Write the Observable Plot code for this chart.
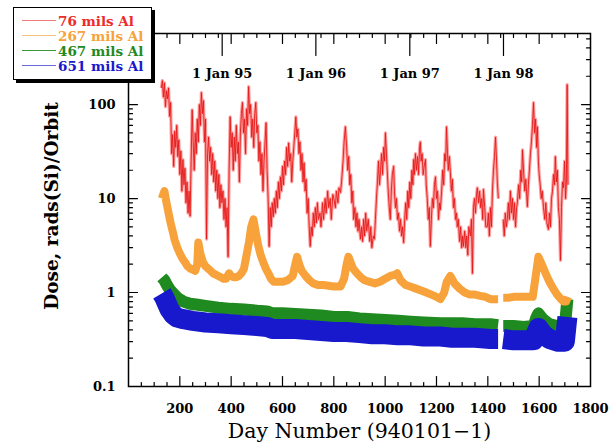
<!DOCTYPE html>
<html>
<head>
<meta charset="utf-8">
<script src="https://cdn.jsdelivr.net/npm/d3@7"></script>
<script src="https://cdn.jsdelivr.net/npm/@observablehq/plot@0.6"></script>
<style>
  html, body { margin: 0; padding: 0; background: #fff; }
  #wrap { position: relative; width: 615px; height: 444px; }
  #legend { position: absolute; left: 13px; top: 7px; width: 137px; height: 71px;
    border: 1px solid #000; box-shadow: 3px 3px 0 #000; background: #fff;
    font-family: "DejaVu Serif", serif; font-weight: bold; font-size: 13.5px; }
  .row { position: absolute; left: 0; height: 15px; display: flex; align-items: center; white-space: nowrap; }
  .sw { display: inline-block; width: 34px; height: 0; border-top: 1.2px solid; margin: 0 2px 0 8px; }
</style>
</head>
<body>
<div id="wrap"><div id="legend"></div></div>
<script>
// ---- data ----
const seriesNames = ["76 mils Al", "267 mils Al", "467 mils Al", "651 mils Al"];
const seriesColors = ["#ee2a2a", "#f7a23a", "#1f8a1f", "#1818cc"];
const swatchColors = ["#f07a7a", "#f5bf80", "#3a9a3a", "#6a6ad8"];
const yTickLabels = [0.1, 1, 10, 100];
const xTickLabels = [200, 400, 600, 800, 1000, 1200, 1400, 1600, 1800];
const yearDays = [365, 730, 1096, 1461];
const yearLabels = ["1 Jan 95", "1 Jan 96", "1 Jan 97", "1 Jan 98"];
const xTitle = "Day Number (940101\u22121)";
const yTitle = "Dose, rads(Si)/Orbit";

// 76 mils Al  [day, dose]
const red = [
[128,150],[132,180],[136,120],[140,170],[144,95],[148,140],[152,115],[156,150],[160,75],[164,105],[168,30],[172,48],[176,22],[180,52],[184,35],[188,60],[192,28],[196,42],[200,18],[204,32],[208,12],[212,26],[216,14],[220,21],[224,9],[228,15],[232,7],[236,12],[240,6.5],[244,25],[248,88],[252,40],[256,20],[260,50],[264,30],[268,70],[272,40],[276,100],[280,60],[284,134],[288,80],[292,110],[296,40],[300,70],[304,3.7],[308,30],[312,45],[316,25],[320,35],[324,18],[328,30],[332,15],[336,25],[340,12],[344,20],[348,10],[352,18],[356,8],[360,14],[364,9],[368,12],[372,6],[376,10],[380,5],[384,8],[388,2.4],[392,20],[396,74],[400,35],[404,50],[408,20],[412,45],[416,25],[420,60],[424,30],[428,40],[432,15],[436,50],[440,80],[444,105],[448,50],[452,70],[456,30],[460,90],[464,60],[468,155],[472,80],[476,100],[480,45],[484,70],[488,35],[492,80],[496,105],[500,50],[504,60],[508,25],[512,40],[516,18],[520,30],[524,12],[528,25],[532,40],[536,64],[540,20],[544,10],[548,3.1],[552,8],[556,5],[560,9],[564,6.4],[568,10],[572,7],[576,12],[580,8],[584,15],[588,10],[592,17],[596,12],[600,22],[604,14],[608,25],[612,18],[616,35],[620,22],[624,39],[628,25],[632,30],[636,15],[640,25],[644,35],[648,50],[652,74],[656,45],[660,55],[664,30],[668,40],[672,20],[676,30],[680,15],[684,24],[688,12],[692,16],[696,7],[700,10],[704,5],[708,3.1],[712,5],[716,4],[720,7],[724,5],[728,8],[732,5.5],[736,9],[740,6],[746,7],[750,5],[756,9],[760,6],[766,10],[770,7],[776,12],[780,8],[786,10],[790,6],[796,11],[800,10],[806,8],[810,12],[816,9],[820,13],[826,11.6],[830,15],[836,25],[840,40],[845,58],[850,35],[854,20],[858,28],[862,14],[866,18],[870,9],[874,12],[877,6],[882,8],[886,5],[890,7],[894,4.5],[898,6],[904,3.7],[908,5],[912,3.5],[916,6],[920,4],[924,7],[928,4.5],[934,6],[940,3.5],[944,5],[948,3],[954,4],[958,3.7],[962,6],[966,10],[970,15],[974,25],[978,14],[982,20],[986,30],[990,18],[994,35],[998,25],[1001,50],[1005,30],[1008,20],[1012,12],[1016,8],[1020,6],[1024,12],[1028,18],[1033,22],[1036,12],[1040,8],[1044,10],[1048,6],[1052,7],[1056,4.5],[1060,6],[1064,4],[1068,5],[1072,3.4],[1076,6],[1080,9],[1084,6],[1088,12],[1092,8],[1096,15],[1100,10],[1104,20],[1108,14],[1111,26],[1114,18],[1118,30],[1122,20],[1126,28],[1130,18],[1134,35],[1137,40],[1140,25],[1144,30],[1148,18],[1152,22],[1157,26],[1160,14],[1164,10],[1168,6],[1172,8],[1176,3.1],[1180,6],[1184,10],[1188,8],[1192,14],[1196,17],[1200,10],[1204,12],[1208,6],[1212,9],[1215,7.6],[1220,12],[1224,20],[1228,14],[1232,30],[1236,25],[1239,58],[1243,30],[1246,20],[1250,28],[1254,19],[1258,12],[1262,16],[1266,8],[1270,10],[1274,6],[1278,7],[1281,5],[1285,6],[1290,3.5],[1294,5],[1298,3],[1302,4],[1305,3.1],[1310,4.5],[1314,3],[1318,4],[1322,2.5],[1326,5],[1332,4],[1336,6],[1340,1.6],[1344,8],[1348,10],[1352,7],[1356,11],[1359,13],[1364,9],[1368,12],[1372,8],[1376,10],[1380,6],[1383,12.5],[1388,8],[1392,5],[1398,5],[1402,7],[1406,4],[1410,8],[1414,5],[1418,12],[1422,20],[1426,28],[1430,45],[1434,25],[1437,15],[1441,10],[1450,null],[1460,6],[1464,4],[1468,7],[1472,5],[1476,6],[1480,9],[1484,6],[1488,12],[1492,7],[1496,10],[1500,6],[1504,9],[1508,5],[1512,8],[1515,9],[1520,14],[1524,10],[1528,20],[1532,15],[1535,33],[1540,18],[1544,12],[1548,16],[1554,8.2],[1558,14],[1562,20],[1566,30],[1570,40],[1574,60],[1578,105],[1582,50],[1586,70],[1590,35],[1593,58],[1597,25],[1600,18],[1604,14],[1608,10],[1612,12],[1617,8],[1622,6],[1626,9],[1630,5.5],[1636,4.7],[1640,7],[1644,5],[1648,10],[1652,12],[1656,18],[1660,14],[1663,28],[1667,15],[1671,20],[1675,8],[1679,6],[1683,2.2],[1687,8],[1691,15],[1695,13],[1699,25],[1703,10],[1706,15],[1709,163],[1712,14]
];
// 267 mils Al
const orange = [
[130,10],[140,12],[148,9],[156,7],[164,5.5],[172,4.5],[180,3.6],[190,3],[200,2.6],[210,2.3],[220,2.1],[230,1.9],[240,1.8],[250,1.75],[260,1.7],[268,2.0],[272,3.4],[280,2.6],[290,2.1],[300,1.9],[310,1.8],[320,1.7],[330,1.6],[340,1.55],[350,1.5],[360,1.45],[370,1.4],[380,1.4],[392,1.6],[400,1.5],[410,1.45],[420,1.45],[430,1.5],[440,1.6],[450,1.8],[460,2.5],[470,3.5],[478,5],[487,6],[495,4.5],[505,3.2],[515,2.5],[525,2.1],[535,1.8],[545,1.6],[555,1.4],[566,1.3],[580,1.3],[600,1.3],[620,1.35],[640,1.5],[650,2.0],[657,2.4],[665,2.0],[675,1.7],[690,1.5],[705,1.35],[720,1.25],[740,1.2],[760,1.2],[780,1.18],[800,1.16],[826,1.16],[840,1.4],[850,2.0],[857,2.4],[865,2.1],[875,1.8],[890,1.6],[905,1.45],[920,1.35],[940,1.3],[960,1.25],[980,1.3],[1000,1.4],[1020,1.5],[1040,1.55],[1047,1.6],[1060,1.35],[1080,1.2],[1100,1.15],[1120,1.1],[1140,1.05],[1160,1.0],[1180,0.95],[1200,0.9],[1215,0.85],[1230,1.0],[1240,1.3],[1254,1.5],[1270,1.25],[1290,1.1],[1310,1.0],[1330,0.95],[1350,0.95],[1370,0.92],[1390,0.9],[1410,0.85],[1425,0.85],[1440,0.85],[1450,null],[1460,0.88],[1480,0.88],[1500,0.9],[1520,0.9],[1540,0.9],[1560,0.9],[1575,0.9],[1585,1.4],[1597,2.4],[1610,2.0],[1625,1.6],[1640,1.3],[1655,1.1],[1670,0.95],[1685,0.85],[1695,0.8],[1705,0.8],[1712,0.9]
];
// 467 mils Al
const green = [
[130,1.45],[140,1.35],[150,1.2],[160,1.08],[175,0.97],[190,0.88],[214,0.8],[240,0.76],[270,0.74],[300,0.72],[350,0.69],[400,0.67],[450,0.66],[502,0.64],[540,0.63],[560,0.6],[600,0.6],[650,0.59],[700,0.58],[750,0.57],[800,0.55],[853,0.55],[900,0.53],[950,0.52],[1000,0.51],[1050,0.5],[1100,0.49],[1150,0.48],[1215,0.47],[1260,0.47],[1300,0.47],[1350,0.46],[1410,0.46],[1440,0.45],[1450,null],[1460,0.44],[1500,0.44],[1540,0.43],[1578,0.44],[1590,0.55],[1597,0.6],[1615,0.52],[1640,0.46],[1670,0.44],[1700,0.43],[1710,0.85]
];
// 651 mils Al
const blue = [
[130,0.98],[140,0.88],[150,0.76],[160,0.66],[175,0.58],[190,0.54],[214,0.52],[250,0.5],[300,0.48],[350,0.47],[400,0.46],[450,0.45],[500,0.44],[540,0.43],[560,0.41],[600,0.41],[650,0.41],[700,0.4],[750,0.39],[800,0.38],[850,0.38],[900,0.37],[950,0.36],[1000,0.36],[1050,0.35],[1100,0.35],[1150,0.34],[1215,0.34],[1260,0.33],[1300,0.33],[1350,0.33],[1410,0.32],[1440,0.32],[1450,null],[1460,0.32],[1500,0.31],[1540,0.31],[1578,0.31],[1590,0.38],[1597,0.42],[1615,0.36],[1640,0.32],[1670,0.3],[1700,0.3],[1710,0.55]
];

// ---- chart ----
const yScaleTicks = d3.scaleLog().domain([0.1, 570]).ticks();
const yMajor = yScaleTicks.filter(v => yTickLabels.includes(v));
const yMinor = yScaleTicks.filter(v => !yTickLabels.includes(v));
const xAll = d3.range(0, 1801, 50);
const xLong = xAll.filter(v => v % 200 === 0 && v > 0 && v < 1800);
const xShort = xAll.filter(v => v % 200 !== 0);
const stick = {draw(context, l) { context.moveTo(0, 0); context.lineTo(0, -l); }};
const tickStyle = {stroke: "#000", strokeWidth: 1.2, anchor: "start", shape: stick};
const lineStyle = {x: d => d[0], y: d => d[1], strokeLinecap: "butt", strokeLinejoin: "round"};

const chart = Plot.plot({
  width: 615, height: 444,
  marginLeft: 128, marginRight: 25, marginTop: 33, marginBottom: 58,
  style: {fontFamily: "DejaVu Serif", background: "#fff", color: "#000"},
  x: {domain: [0, 1800]},
  y: {type: "log", domain: [0.1, 570]},
  marks: [
    Plot.line(green, {...lineStyle, stroke: seriesColors[2], strokeWidth: 12}),
    Plot.line(blue, {...lineStyle, stroke: seriesColors[3], strokeWidth: 20}),
    Plot.line(orange, {...lineStyle, stroke: seriesColors[1], strokeWidth: 8}),
    Plot.line(red, {...lineStyle, stroke: "#ffa0a0", strokeWidth: 3.2}),
    Plot.line(red, {...lineStyle, stroke: "#e41818", strokeWidth: 0.9}),
    Plot.frame({stroke: "#000", strokeWidth: 1.5}),
    // inward ticks
    Plot.vectorY(yMajor, {...tickStyle, frameAnchor: "left", rotate: 90, length: 9}),
    Plot.vectorY(yMinor, {...tickStyle, frameAnchor: "left", rotate: 90, length: 4}),
    Plot.vectorY(yMajor, {...tickStyle, frameAnchor: "right", rotate: 270, length: 9}),
    Plot.vectorY(yMinor, {...tickStyle, frameAnchor: "right", rotate: 270, length: 4}),
    Plot.vectorX(xLong, {...tickStyle, frameAnchor: "bottom", rotate: 0, length: 10}),
    Plot.vectorX(xShort, {...tickStyle, frameAnchor: "bottom", rotate: 0, length: 4}),
    Plot.vectorX(xLong, {...tickStyle, frameAnchor: "top", rotate: 180, length: 10}),
    Plot.vectorX(xShort, {...tickStyle, frameAnchor: "top", rotate: 180, length: 4}),
    Plot.vectorX(yearDays, {...tickStyle, frameAnchor: "top", rotate: 180, length: 22}),
    Plot.text(yearDays, {x: d => d, text: (d, i) => yearLabels[i], frameAnchor: "top", dy: 40,
      lineAnchor: "middle", fontWeight: "bold", fontSize: 13}),
    Plot.axisX({ticks: xTickLabels, tickSize: 0, tickPadding: 17, fontWeight: "bold", fontSize: 13,
      tickFormat: d => String(d), label: null}),
    Plot.axisY({ticks: yTickLabels, tickSize: 0, tickPadding: 13, fontWeight: "bold", fontSize: 13,
      tickFormat: d => String(d), label: null}),
    Plot.text([yTitle], {frameAnchor: "left", dx: -76, dy: -4, rotate: -90, textAnchor: "middle",
      fontSize: 18.5, fontWeight: "bold", lineAnchor: "middle"}),
    Plot.text([xTitle], {frameAnchor: "bottom", dy: 45, fontSize: 20.5, lineAnchor: "middle"})
  ]
});
const wrap = document.getElementById("wrap");
wrap.insertBefore(chart, wrap.firstChild);

// legend
const legend = document.getElementById("legend");
seriesNames.forEach((name, i) => {
  const row = document.createElement("div");
  row.className = "row";
  row.style.top = (5 + i * 15) + "px";
  row.style.color = seriesColors[i];
  row.innerHTML = `<span class="sw" style="border-color:${swatchColors[i]}"></span>${name}`;
  legend.appendChild(row);
});
</script>
</body>
</html>
